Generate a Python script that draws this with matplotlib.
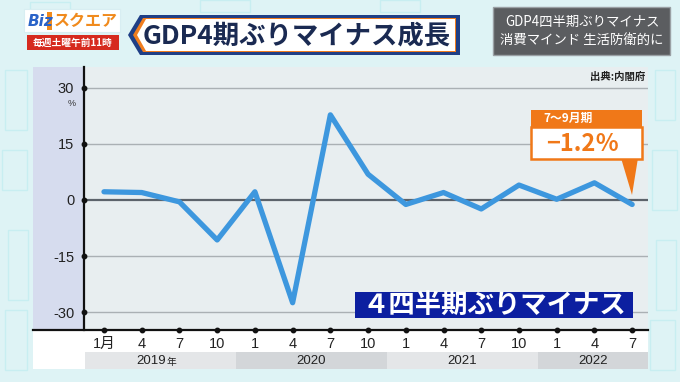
import matplotlib
matplotlib.use("Agg")
import matplotlib.pyplot as plt
from matplotlib.patches import Rectangle, Polygon
import matplotlib.transforms as mtransforms

# ---------------- data ----------------
quarter_labels = ["1月", "4", "7", "10", "1", "4", "7", "10", "1", "4", "7", "10", "1", "4", "7"]
gdp_growth = [2.2, 2.0, -0.5, -10.7, 2.2, -27.5, 22.8, 6.9, -1.2, 2.0, -2.4, 4.0, 0.2, 4.6, -1.2]
year_labels = ["2019年", "2020", "2021", "2022"]
year_quarters = [4, 4, 4, 3]
y_ticks = [-30, -15, 0, 15, 30]
latest_period = "7～9月期"
latest_value = "−1.2％"
headline = "GDP4期ぶりマイナス成長"
side_text = "GDP4四半期ぶりマイナス\n消費マインド 生活防衛的に"
banner = "４四半期ぶりマイナス"
source = "出典:内閣府"

FONT = ["Liberation Sans", "Noto Sans CJK JP", "DejaVu Sans"]
JP = ["Noto Sans CJK JP", "DejaVu Sans"]
plt.rcParams["font.family"] = FONT

W, H = 680, 382
fig = plt.figure(figsize=(W / 100, H / 100), dpi=100, facecolor="#def3f5")

# background overlay in pixel coords
bg = fig.add_axes([0, 0, 1, 1], zorder=0)
bg.set_xlim(0, W); bg.set_ylim(H, 0); bg.axis("off")

# faint decorative building outlines
for (x0, y0, w, h) in [(5, 70, 22, 60), (2, 150, 25, 40), (8, 230, 20, 70), (5, 310, 22, 60),
                       (655, 70, 20, 50), (652, 150, 25, 60), (656, 240, 20, 70), (650, 320, 25, 50),
                       (30, 2, 40, 10), (200, 0, 50, 12), (380, 0, 40, 12)]:
    bg.add_patch(Rectangle((x0, y0), w, h, fill=False, ec="#c8eef1", lw=1.0))

# chart panel
bg.add_patch(Rectangle((33, 67), 615, 302, fc="#ffffff", ec="none"))
bg.add_patch(Rectangle((33, 67), 51, 263, fc="#d6dcee", ec="none"))
# year band
x_first, dx = 104, 37.7
band_colors = ["#e4e6e8", "#d3d6d9"]
start = 85
q = 0
for i, (lab, n) in enumerate(zip(year_labels, year_quarters)):
    end = x_first + (q + n) * dx - dx / 2 if i < len(year_labels) - 1 else 648
    bg.add_patch(Rectangle((start, 352), end - start, 17, fc=band_colors[i % 2], ec="none"))
    xc = (start + end) / 2
    if lab.endswith("年"):
        bg.text(xc + 5, 361, lab[:-1], ha="right", va="center", fontsize=9.5, color="#222222")
        bg.text(xc + 6, 361.5, "年", ha="left", va="center", fontsize=7, color="#222222", family=JP)
    else:
        bg.text(xc, 361, lab, ha="center", va="center", fontsize=9.5, color="#222222")
    start = end
    q += n

# ---------------- main chart ----------------
ax = fig.add_axes([84 / W, 1 - 330 / H, (648 - 84) / W, (330 - 67) / H], zorder=2)
ax.set_facecolor("#e8eef0")
x = list(range(len(gdp_growth)))
ax.set_xlim(-0.53, 14.42)
ax.set_ylim(-34.8, 35.6)
for t in y_ticks:
    if t == 0:
        ax.axhline(t, color="#5c636b", lw=1.6, zorder=1)
    else:
        ax.axhline(t, color="#aab0b4", lw=1.0, zorder=1)
ax.plot(x, gdp_growth, color="#3d97de", lw=3.8, solid_capstyle="round",
        solid_joinstyle="round", zorder=3)

for s in ["top", "right"]:
    ax.spines[s].set_visible(False)
ax.spines["left"].set_color("#111111"); ax.spines["left"].set_linewidth(1.6)
ax.spines["bottom"].set_visible(False)
ax.set_yticks(y_ticks)
ax.set_yticklabels([str(t) for t in y_ticks], fontsize=10.5, color="#222222")
ax.set_xticks(x)
ax.set_xticklabels(quarter_labels, fontsize=10.5, color="#222222")
ax.tick_params(axis="y", length=0, pad=7)
ax.tick_params(axis="x", length=0, pad=5)
# tick dots
tr_y = mtransforms.blended_transform_factory(ax.transAxes, ax.transData)
ax.plot([0] * len(y_ticks), y_ticks, "o", ms=3.2, color="#111111", transform=tr_y, clip_on=False, zorder=5)
tr_x = mtransforms.blended_transform_factory(ax.transData, ax.transAxes)
ax.plot(x, [0] * len(x), "o", ms=3.2, color="#111111", transform=tr_x, clip_on=False, zorder=5)

# ---------------- overlay ----------------
ov = fig.add_axes([0, 0, 1, 1], zorder=4)
ov.set_xlim(0, W); ov.set_ylim(H, 0); ov.axis("off"); ov.patch.set_alpha(0)
ov.plot([33, 648], [330, 330], color="#111111", lw=1.6, zorder=1)
ov.text(72, 103, "%", fontsize=6.5, color="#333333", ha="center", va="center")
ov.text(645, 77, source, fontsize=7.5, fontweight="bold", color="#222222", ha="right", va="center", family=JP)

# header: logo
ov.add_patch(Rectangle((24, 9), 96, 23, fc="#ffffff", ec="#d8eef2", lw=0.8))
ov.text(28, 21, "Biz", fontsize=11, fontweight="bold", fontstyle="italic", color="#2a63c8", ha="left", va="center",
        family=["DejaVu Sans"])
ov.text(54, 21, "スクエア", fontsize=11.5, fontweight="bold", color="#f08a1c", ha="left", va="center", family=JP)
ov.add_patch(Rectangle((47, 12), 5, 18, fc="#f08a1c", ec="none"))
ov.add_patch(Rectangle((27, 35), 92, 15, fc="#d62a1e", ec="none"))
ov.text(73, 42.5, "毎週土曜午前11時", fontsize=7, fontweight="bold", color="#ffffff", ha="center", va="center", family=JP)

# header: title box
ov.add_patch(Polygon([(128, 35), (140, 15), (460, 15), (460, 55), (140, 55)], closed=True,
                     fc="#1f3f86", ec="none"))
ov.add_patch(Polygon([(133, 35), (143, 18), (456, 18), (456, 52), (143, 52)], closed=True,
                     fc="#f07d1e", ec="none"))
ov.add_patch(Polygon([(137, 35), (146, 19), (455, 19), (455, 51), (146, 51)], closed=True,
                     fc="#ffffff", ec="none"))
ov.text(297, 36, headline, fontsize=19, fontweight="bold", color="#1a2a52", ha="center", va="center", family=JP)

# header: side box
ov.add_patch(Rectangle((493, 7), 177, 48, fc="#5b5d60", ec="#9aa0a4", lw=1))
ov.text(582, 31, side_text, fontsize=9.6, color="#ffffff", ha="center", va="center",
        linespacing=1.3, family=JP)

# blue banner
ov.add_patch(Rectangle((355, 292), 278, 26, fc="#0c1fa0", ec="none"))
ov.text(494, 305.5, banner, fontsize=19, fontweight="bold", color="#ffffff", ha="center", va="center", family=JP)

# orange callout
ov.add_patch(Polygon([(621, 158), (638, 158), (632, 195)], closed=True, fc="#f07818", ec="none"))
ov.add_patch(Rectangle((531, 110), 111, 17, fc="#f07818", ec="none"))
ov.add_patch(Rectangle((531, 127), 111, 32, fc="#ffffff", ec="#f07818", lw=1.8))
ov.text(543, 118.5, latest_period, fontsize=8.5, fontweight="bold", color="#ffffff", ha="left", va="center", family=JP)
ov.text(583, 144, latest_value, fontsize=17, fontweight="bold", color="#f07818", ha="center", va="center", family=JP)

fig.savefig("out.png", dpi=100, facecolor=fig.get_facecolor())
